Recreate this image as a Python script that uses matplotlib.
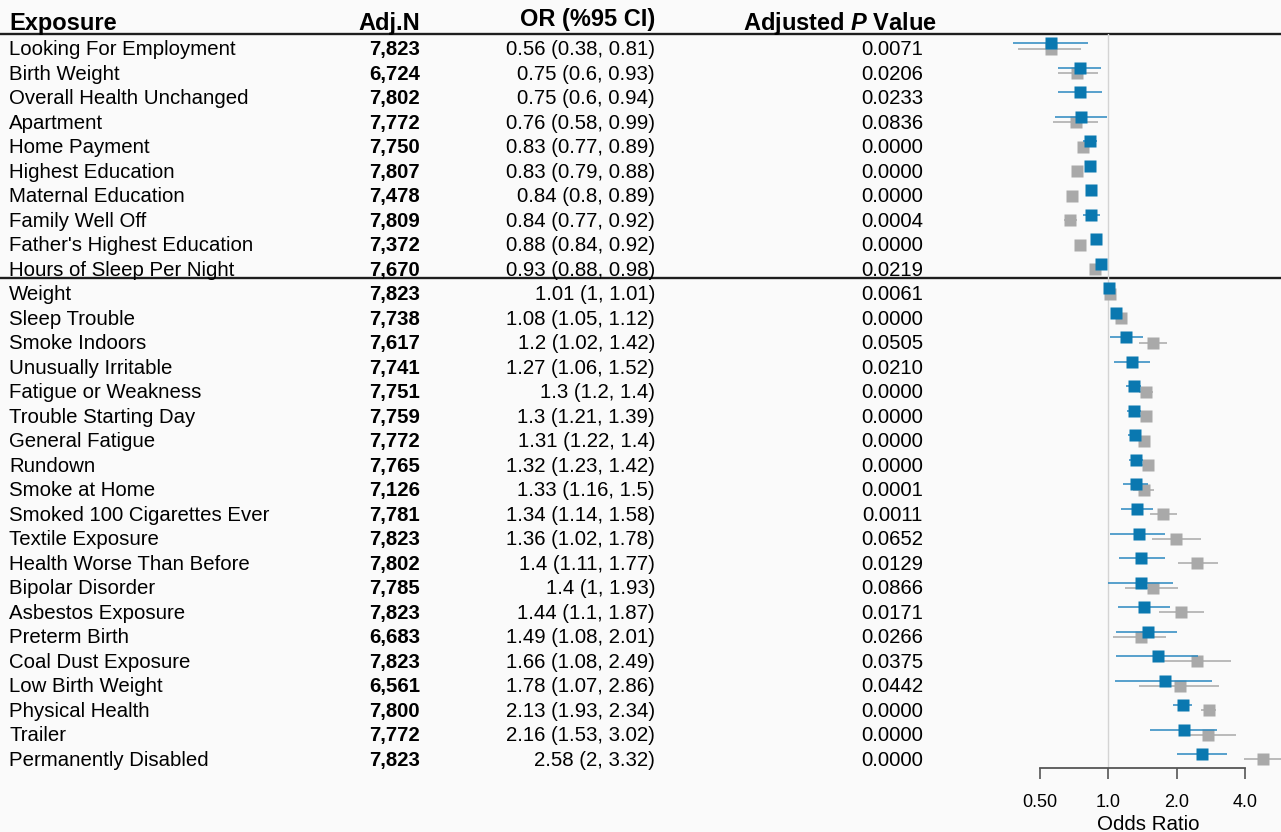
import numpy as np
import matplotlib
matplotlib.use("Agg")
import matplotlib.pyplot as plt
from matplotlib.ticker import FixedLocator, FixedFormatter, NullLocator

plt.rcParams['font.family'] = ['Liberation Sans', 'DejaVu Sans']
plt.rcParams['mathtext.fontset'] = 'custom'
plt.rcParams['mathtext.it'] = 'Liberation Sans:italic:bold'
plt.rcParams['mathtext.rm'] = 'Liberation Sans:bold'

# ---- data -------------------------------------------------------------
exposures = [
    "Looking For Employment", "Birth Weight", "Overall Health Unchanged",
    "Apartment", "Home Payment", "Highest Education", "Maternal Education",
    "Family Well Off", "Father's Highest Education", "Hours of Sleep Per Night",
    "Weight", "Sleep Trouble", "Smoke Indoors", "Unusually Irritable",
    "Fatigue or Weakness", "Trouble Starting Day", "General Fatigue",
    "Rundown", "Smoke at Home", "Smoked 100 Cigarettes Ever",
    "Textile Exposure", "Health Worse Than Before", "Bipolar Disorder",
    "Asbestos Exposure", "Preterm Birth", "Coal Dust Exposure",
    "Low Birth Weight", "Physical Health", "Trailer", "Permanently Disabled",
]
adj_n = [7823, 6724, 7802, 7772, 7750, 7807, 7478, 7809, 7372, 7670,
         7823, 7738, 7617, 7741, 7751, 7759, 7772, 7765, 7126, 7781,
         7823, 7802, 7785, 7823, 6683, 7823, 6561, 7800, 7772, 7823]
odds_ratio = [0.56, 0.75, 0.75, 0.76, 0.83, 0.83, 0.84, 0.84, 0.88, 0.93,
              1.01, 1.08, 1.2, 1.27, 1.3, 1.3, 1.31, 1.32, 1.33, 1.34,
              1.36, 1.4, 1.4, 1.44, 1.49, 1.66, 1.78, 2.13, 2.16, 2.58]
ci_lower = [0.38, 0.6, 0.6, 0.58, 0.77, 0.79, 0.8, 0.77, 0.84, 0.88,
            1.0, 1.05, 1.02, 1.06, 1.2, 1.21, 1.22, 1.23, 1.16, 1.14,
            1.02, 1.11, 1.0, 1.1, 1.08, 1.08, 1.07, 1.93, 1.53, 2.0]
ci_upper = [0.81, 0.93, 0.94, 0.99, 0.89, 0.88, 0.89, 0.92, 0.92, 0.98,
            1.01, 1.12, 1.42, 1.52, 1.4, 1.39, 1.4, 1.42, 1.5, 1.58,
            1.78, 1.77, 1.93, 1.87, 2.01, 2.49, 2.86, 2.34, 3.02, 3.32]
p_adjusted = [0.0071, 0.0206, 0.0233, 0.0836, 0.0000, 0.0000, 0.0000,
              0.0004, 0.0000, 0.0219, 0.0061, 0.0000, 0.0505, 0.0210,
              0.0000, 0.0000, 0.0000, 0.0000, 0.0001, 0.0011, 0.0652,
              0.0129, 0.0866, 0.0171, 0.0266, 0.0375, 0.0442, 0.0000,
              0.0000, 0.0000]

# unadjusted estimates (grey)
nan = np.nan
crude_or = [0.56, 0.73, nan, 0.72, 0.77, 0.73, 0.69, 0.68, 0.75, 0.87,
            1.02, 1.14, 1.57, nan, 1.46, 1.46, 1.44, 1.49, 1.43, 1.74,
            1.99, 2.47, 1.57, 2.10, 1.39, 2.47, 2.06, 2.77, 2.76, 4.83]
crude_lower = [0.40, 0.60, nan, 0.57, 0.74, 0.70, 0.66, 0.635, 0.72, 0.84,
               1.01, 1.10, 1.36, nan, 1.36, 1.38, 1.36, 1.40, 1.28, 1.52,
               1.56, 2.02, 1.18, 1.68, 1.05, 1.75, 1.36, 2.56, 2.10, 3.95]
crude_upper = [0.76, 0.90, nan, 0.90, 0.80, 0.76, 0.72, 0.73, 0.78, 0.90,
               1.03, 1.18, 1.81, nan, 1.57, 1.55, 1.52, 1.58, 1.59, 2.00,
               2.55, 3.03, 2.03, 2.63, 1.80, 3.49, 3.06, 2.99, 3.66, 5.90]

x_ticks = [0.5, 1.0, 2.0, 4.0]
x_tick_labels = ["0.50", "1.0", "2.0", "4.0"]

# ---- layout helpers (pixel geometry of the canvas) -----------------------
W, H = 1281, 832
ROW0, ROW_STEP = 43.3, 24.51          # first row centre and row pitch, px


def rows_at(px):
    return (px - ROW0) / ROW_STEP


BLUE = "#0a78b0"
BLUE_LINE = "#2a88c0"
GREY = "#a9a9a9"
BG = "#fafafa"
TXT = 14.7
HDR = 17

fig = plt.figure(figsize=(W / 100, H / 100), dpi=100, facecolor=BG)

# table layer spanning the whole canvas
tab = fig.add_axes([0, 0, 1, 1])
tab.set_xlim(0, W)
tab.set_ylim(rows_at(H), rows_at(0))
tab.axis("off")

n = len(exposures)
rows = np.arange(n)
base = 0.48

for i in range(n):
    y = rows[i] + base
    tab.text(9, y, exposures[i], ha="left", va="baseline", fontsize=TXT)
    tab.text(420, y, f"{adj_n[i]:,}", ha="right", va="baseline",
             fontsize=TXT, fontweight="bold")
    tab.text(655, y, f"{odds_ratio[i]:g} ({ci_lower[i]:g}, {ci_upper[i]:g})",
             ha="right", va="baseline", fontsize=TXT)
    tab.text(923, y, f"{p_adjusted[i]:.4f}", ha="right", va="baseline",
             fontsize=TXT)

tab.text(9, rows_at(30), "Exposure", ha="left", va="baseline",
         fontsize=HDR, fontweight="bold")
tab.text(420, rows_at(30), "Adj.N", ha="right", va="baseline",
         fontsize=HDR, fontweight="bold")
tab.text(655, rows_at(26), "OR (%95 CI)", ha="right", va="baseline",
         fontsize=HDR, fontweight="bold")
tab.text(937, rows_at(29.5), r"Adjusted $P$ Value", ha="right",
         va="baseline", fontsize=HDR, fontweight="bold")

# separators: under the header and between protective / risk exposures
for ypx in (33.5, 278.3):
    tab.plot([0, W], [rows_at(ypx)] * 2, color="#1e1e1e", lw=1.7,
             solid_capstyle="butt", clip_on=False)

# ---- forest panel ------------------------------------------------------
left_px, right_px, top_px, bot_px = 990, 1281, 34, 768
ax = fig.add_axes([left_px / W, (H - bot_px) / H,
                   (right_px - left_px) / W, (bot_px - top_px) / H])
ax.patch.set_visible(False)
ax.set_xscale("log", base=2)
one_px, px_per_doubling = 1108.3, 68.3
ax.set_xlim(2 ** ((left_px - one_px) / px_per_doubling),
            2 ** ((right_px - one_px) / px_per_doubling))
ax.set_ylim(rows_at(bot_px), rows_at(top_px))

ax.axvline(1.0, color="#d4d4d4", lw=1.0, zorder=1)

offset = 0.22
c_or = np.array(crude_or)
c_lo = np.array(crude_lower)
c_hi = np.array(crude_upper)
ok = ~np.isnan(c_or)
ax.hlines(rows[ok] + offset, c_lo[ok], c_hi[ok], color=GREY, lw=1.1, zorder=2)
ax.plot(c_or[ok], rows[ok] + offset, ls="none", marker="s", ms=8.0,
        mfc=GREY, mec="none", zorder=3)

ax.hlines(rows, ci_lower, ci_upper, color=BLUE_LINE, lw=1.1, zorder=4)
ax.plot(odds_ratio, rows, ls="none", marker="s", ms=8.3,
        mfc=BLUE, mec="none", zorder=5)

for side in ("top", "right", "left"):
    ax.spines[side].set_visible(False)
ax.spines["bottom"].set_bounds(0.5, 4.0)
ax.spines["bottom"].set_color("#555555")
ax.spines["bottom"].set_linewidth(1.3)
ax.xaxis.set_major_locator(FixedLocator(x_ticks))
ax.xaxis.set_major_formatter(FixedFormatter(x_tick_labels))
ax.xaxis.set_minor_locator(NullLocator())
ax.tick_params(axis="x", direction="out", length=8, width=1.2,
               color="#555555", labelsize=13, pad=11)
ax.set_yticks([])

fig.text(1148 / W, 1 - 830 / H, "Odds Ratio", ha="center", va="baseline",
         fontsize=14.8)

fig.savefig("out.png", dpi=100, facecolor=BG)
